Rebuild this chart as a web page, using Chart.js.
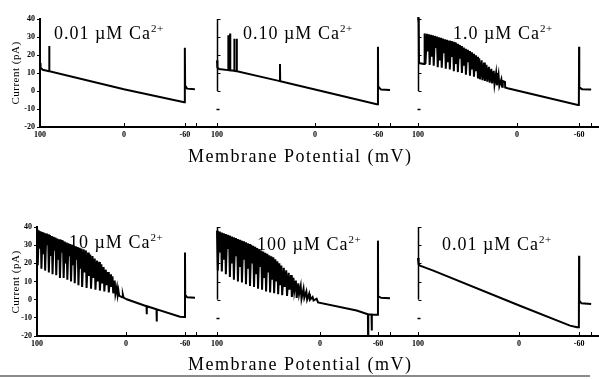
<!DOCTYPE html>
<html>
<head>
<meta charset="utf-8">
<script src="https://cdn.jsdelivr.net/npm/chart.js@4.4.1/dist/chart.umd.min.js"></script>
<style>
  body { margin: 0; background: #fff; width: 599px; height: 379px; position: relative; overflow: hidden;
         font-family: "Liberation Serif", "DejaVu Serif", serif; color: #000; }
  canvas { position: absolute; }
  .title { position: absolute; font-size: 18px; line-height: 18px; letter-spacing: 1px; white-space: nowrap; }
  .title sup { font-size: 11px; vertical-align: 0; position: relative; top: -7px; letter-spacing: 0.5px; }
  .xname { position: absolute; font-size: 18px; line-height: 18px; letter-spacing: 1.5px; white-space: nowrap; }
  .yname { position: absolute; font-size: 11px; line-height: 11px; letter-spacing: 0.5px; white-space: nowrap;
           transform: translate(-50%, -50%) rotate(-90deg); }
  .rule { position: absolute; left: 0; top: 375px; width: 590px; height: 2px; background: #8a8a8a; }
</style>
</head>
<body>
<canvas id="p0" width="217" height="147" style="left:0;top:0"></canvas>
<canvas id="p1" width="218" height="147" style="left:200px;top:0"></canvas>
<canvas id="p2" width="199" height="147" style="left:400px;top:0"></canvas>
<canvas id="p3" width="217" height="156" style="left:0;top:200px"></canvas>
<canvas id="p4" width="218" height="156" style="left:200px;top:200px"></canvas>
<canvas id="p5" width="199" height="156" style="left:400px;top:200px"></canvas>
<div class="rule"></div>
<script>
// Ca2+ concentration (µM) of each recording
const concLabels = ['0.01', '0.10', '1.0', '10', '100', '0.01'];

// potential axis: time in ms along the ramp (100 mV at 0 ms, -60 mV at 800 ms)
const potLabels = ['100', '0', '-60', ''];
const zeroMs = [463, 487, 492, 481, 512, 502];
const currentTicks = [-20, -10, 0, 10, 20, 30, 40];

// traces: [time ms, current pA]
const trace0 = [[0, 15.5], [3, 13], [15, 11.8], [50, 11], [51, 25], [52, 11], [463, 1], [796, -6.2], [799, -6.2],
  [800, 24], [801, 3], [812, 1.3], [855, 1]];

const trace1 = [[0, 17], [2, 13], [10, 12.2], [55, 11.6], [56, 31], [57, 11.6], [64, 11.5], [65, 32], [66, 11.5],
  [85, 11.2], [86, 29], [87, 11.2], [97, 11], [98, 29], [99, 11], [312, 5.5], [313, 15], [314, 5.5], [487, 0.8],
  [794, -7.4], [799, -7.4], [800, 24.6], [801, 2.5], [815, 0.8], [860, 0.6]];

const trace2 = [[0, 41], [3, 41], [4, 38], [5, 15.5], [30, 15], [33, 32],
  [37, 15], [44, 31.8], [48, 22], [54, 31.5], [58, 14.5], [64, 31.2], [68, 19], [74, 30.9], [78, 14], [84, 30.6],
  [88, 24], [94, 30.2], [98, 13.2], [104, 29.8], [108, 17], [114, 29.5], [118, 13], [124, 29.1], [128, 21],
  [134, 28.8], [138, 12.4], [144, 28.5], [148, 16], [154, 28.1], [158, 12], [164, 27.8], [168, 19], [174, 27.4],
  [178, 11], [184, 27], [188, 15], [194, 26.3], [198, 10.5], [204, 25.6], [208, 18], [214, 25], [218, 10],
  [224, 24.2], [228, 14], [234, 23.5], [238, 9], [244, 22.9], [248, 16], [254, 22.2], [258, 8.5], [264, 21.5],
  [268, 12], [274, 20.7], [278, 8], [284, 19.8], [288, 11], [294, 19], [298, 7], [304, 18.2], [308, 6.5],
  [316, 17], [320, 6], [328, 15.8], [332, 5.6], [340, 14.6], [344, 5.2], [352, 13.4], [356, 4.6], [364, 12.3],
  [368, 4.2], [376, 11.2], [380, 3.7], [388, 10], [392, 3.2], [400, 9], [404, 2.8], [414, 6.5], [418, 2.4],
  [421, 5.5], [432, 5], [433, 1.9], [445, 1.5], [794, -7.8], [799, -7.8], [800, 24.6], [801, 2], [815, 1], [860, 0.8]];

const trace3 = [[0, 38.5], [4, 19], [10, 38], [14, 28], [20, 37.6], [24, 17], [30, 37.2], [34, 25], [40, 36.8],
  [44, 16], [50, 36.4], [54, 30], [60, 36], [64, 15], [70, 35.6], [74, 24], [80, 35], [84, 14], [90, 34.6],
  [94, 27], [100, 34.2], [104, 13.5], [110, 33.7], [114, 22], [120, 33.3], [124, 12], [130, 32.9], [134, 26],
  [140, 32.5], [144, 12], [150, 32], [154, 20], [160, 31.5], [164, 11], [170, 31], [174, 24], [180, 30.6],
  [184, 10], [190, 30.2], [194, 19], [200, 29.8], [204, 9], [210, 29.4], [214, 22], [220, 29], [224, 8],
  [230, 28.6], [234, 17], [240, 28.2], [244, 7], [252, 27.7], [256, 15], [264, 27.1], [268, 6.5], [276, 26],
  [280, 13], [288, 24.8], [292, 6], [300, 24], [304, 12], [312, 22.6], [316, 5.5], [324, 21.5], [328, 10],
  [336, 20.8], [340, 5], [348, 19.5], [352, 9], [360, 18], [364, 4.5], [372, 16.5], [376, 8], [384, 15.2],
  [388, 4], [396, 14], [400, 7], [408, 12.8], [412, 3.5], [420, 10.5], [424, 3], [432, 7], [436, 2.5], [440, 5],
  [444, 2.2], [460, 1.3], [464, 2.8], [468, 1.1], [485, 0.2], [592, -3.6], [593, -8], [594, -3.6], [646, -5.3],
  [647, -12], [648, -5.3], [773, -9.4], [799, -9.6], [800, 26], [801, 2.7], [812, 1.3], [854, 1]];

const trace4 = [[0, 38], [4, 16], [10, 37.5], [14, 26], [20, 37], [24, 15.5], [30, 36.6], [34, 22], [40, 36.1],
  [44, 14], [50, 35.7], [54, 28], [60, 35.3], [64, 12.5], [70, 34.8], [74, 20], [80, 34.3], [84, 11], [90, 33.9],
  [94, 24], [100, 33.4], [104, 10], [110, 33], [114, 18], [120, 32.5], [124, 9.5], [130, 32.1], [134, 22],
  [140, 31.6], [144, 8.5], [150, 31.1], [154, 17], [160, 30.6], [164, 7.5], [170, 30.2], [174, 20], [180, 29.7],
  [184, 7], [190, 29.1], [194, 14], [200, 28.4], [204, 6], [210, 27.8], [214, 18], [220, 27.1], [224, 5.5],
  [230, 26.5], [234, 12], [240, 25.8], [244, 4.5], [250, 25.2], [254, 15], [260, 24.5], [264, 4], [270, 23.9],
  [274, 11], [280, 23.3], [284, 3.5], [290, 22.2], [294, 10], [300, 21.1], [304, 3], [310, 20], [314, 8],
  [320, 18.8], [324, 2.5], [332, 17.6], [336, 7], [344, 16.2], [348, 2], [356, 14.8], [360, 5.5], [368, 13.5],
  [372, 1.5], [380, 12], [384, 4.5], [392, 10.5], [396, 1], [404, 9], [408, 3], [416, 7.5], [420, 0.5], [430, 6],
  [434, 1], [444, 4.5], [448, 0], [458, 3.2], [462, 0], [475, 1.5], [480, -0.5], [495, 0.5], [502, -1.5],
  [694, -6], [750, -8], [751, -20], [752, -8], [768, -8.1], [769, -17], [770, -8.2], [794, -8.3], [799, -8.3],
  [800, 32.5], [801, 2], [815, 1], [860, 0.8]];

const trace5 = [[0, 23], [3, 19.5], [10, 18.7], [76, 16], [503, -3.2], [755, -14.3], [790, -15.2], [799, -15.2],
  [800, 24.2], [801, -0.5], [812, -2], [860, -2.4]];

const traces = [trace0, trace1, trace2, trace3, trace4, trace5];

// layout of each panel (pixels / axis extent)
const panels = [
  { yW: 40, padTop: 19, xMax: 977, labels: true,  tx: 54,  ty: 24 },
  { yW: 17, padTop: 19, xMax: 999, labels: false, tx: 243, ty: 24 },
  { yW: 18, padTop: 19, xMax: 899, labels: false, tx: 453, ty: 24 },
  { yW: 37, padTop: 27, xMax: 973, labels: true,  tx: 69,  ty: 233 },
  { yW: 17, padTop: 27, xMax: 999, labels: false, tx: 257, ty: 235 },
  { yW: 18, padTop: 27, xMax: 899, labels: false, tx: 442, ty: 235 },
];

const SERIF = '"Liberation Serif", serif';

// inward ticks on the potential axis, bracket-style current axis on inner panels
const decor = {
  id: 'decor',
  afterDraw(chart, args, opts) {
    const { ctx, chartArea: a, scales: { x, y } } = chart;
    ctx.save();
    ctx.strokeStyle = '#000';
    ctx.lineWidth = 1;
    x.ticks.forEach(t => {
      const px = Math.round(x.getPixelForValue(t.value)) + 0.5;
      ctx.beginPath(); ctx.moveTo(px, a.bottom); ctx.lineTo(px, a.bottom - 4); ctx.stroke();
    });
    if (opts.bracket) {
      const left = Math.round(a.left) + 0.5;
      ctx.lineWidth = 1.5;
      ctx.beginPath();
      ctx.moveTo(left, y.getPixelForValue(40));
      ctx.lineTo(left, y.getPixelForValue(0));
      ctx.stroke();
      ctx.lineWidth = 1;
      currentTicks.filter(v => v >= 0).forEach(v => {
        const py = Math.round(y.getPixelForValue(v)) + 0.5;
        ctx.beginPath(); ctx.moveTo(left, py); ctx.lineTo(left + 3, py); ctx.stroke();
      });
      const pm = Math.round(y.getPixelForValue(-10)) + 0.5;
      ctx.lineWidth = 1.5;
      ctx.beginPath(); ctx.moveTo(left - 1, pm); ctx.lineTo(left + 2, pm); ctx.stroke();
    }
    ctx.restore();
  }
};

function makePanel(i) {
  const cfg = panels[i];
  new Chart(document.getElementById('p' + i), {
    type: 'line',
    data: {
      datasets: [{
        data: traces[i].map(([t, v]) => ({ x: t, y: v })),
        borderColor: '#000',
        borderWidth: 2,
        pointRadius: 0,
        tension: 0,
        clip: false,
      }]
    },
    options: {
      responsive: false,
      animation: false,
      devicePixelRatio: 1,
      layout: { padding: { top: cfg.padTop, right: 0, bottom: 0, left: 0 } },
      plugins: { legend: { display: false }, tooltip: { enabled: false }, decor: { bracket: !cfg.labels } },
      scales: {
        x: {
          type: 'linear', min: 0, max: cfg.xMax,
          afterFit: s => { s.height = 20; },
          afterBuildTicks: s => { s.ticks = [0, zeroMs[i], 800, 860].map(v => ({ value: v })); },
          ticks: {
            autoSkip: false, maxRotation: 0, padding: 3, color: '#000',
            font: { family: SERIF, size: 8, weight: 'bold' },
            callback: (v, idx) => potLabels[idx],
          },
          grid: { display: false, drawTicks: false },
          border: { display: true, color: '#000', width: 2 },
        },
        y: {
          min: -20, max: 40,
          afterFit: s => { s.width = cfg.yW; },
          ticks: {
            display: cfg.labels, stepSize: 10, padding: 2, color: '#000',
            font: { family: SERIF, size: 8, weight: 'bold' },
          },
          grid: { display: cfg.labels, drawOnChartArea: false, drawTicks: true, tickLength: 3, color: '#000' },
          border: { display: cfg.labels, color: '#000', width: 2 },
        }
      }
    },
    plugins: [decor]
  });

  const t = document.createElement('div');
  t.className = 'title';
  t.style.left = cfg.tx + 'px';
  t.style.top = cfg.ty + 'px';
  t.innerHTML = concLabels[i] + ' µM Ca<sup>2+</sup>';
  document.body.appendChild(t);
}

panels.forEach((p, i) => makePanel(i));

// shared axis names
[147, 355].forEach(top => {
  const d = document.createElement('div');
  d.className = 'xname';
  d.style.left = '188px';
  d.style.top = top + 'px';
  d.textContent = 'Membrane Potential (mV)';
  document.body.appendChild(d);
});
[73, 282].forEach(cy => {
  const d = document.createElement('div');
  d.className = 'yname';
  d.style.left = '15px';
  d.style.top = cy + 'px';
  d.textContent = 'Current (pA)';
  document.body.appendChild(d);
});
</script>
</body>
</html>
